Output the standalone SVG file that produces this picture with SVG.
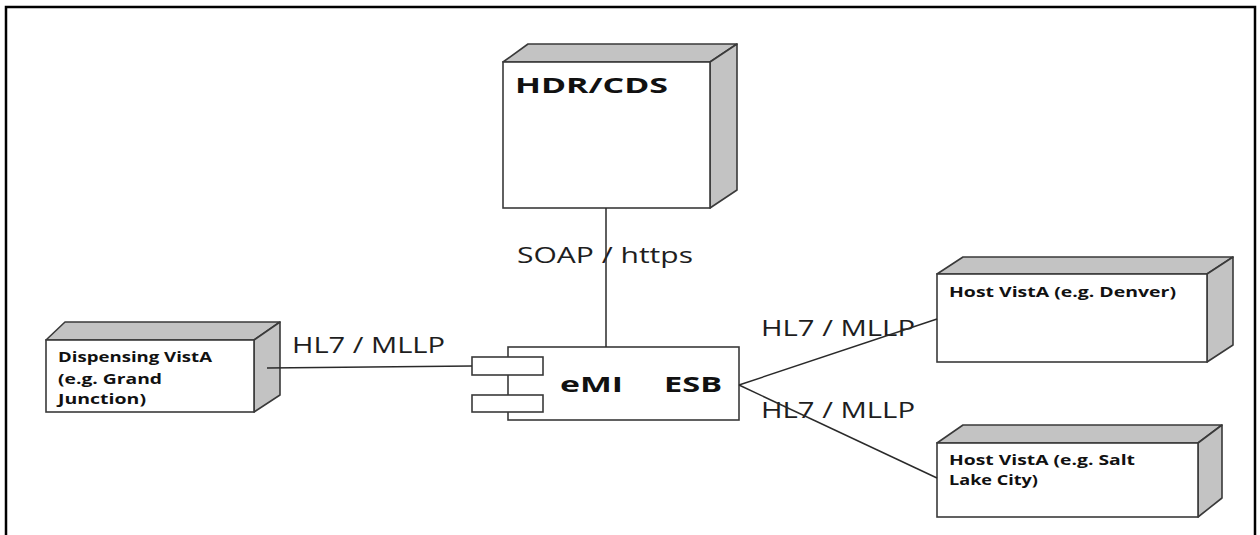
<svg xmlns="http://www.w3.org/2000/svg" width="1260" height="535" viewBox="0 0 1260 535">
<style>
.face{fill:#ffffff;stroke:#3a3a3a;stroke-width:1.6}
.shade{fill:#c3c3c3;stroke:#3a3a3a;stroke-width:1.6;stroke-linejoin:round}
.conn{stroke:#2a2a2a;stroke-width:1.5;fill:none}
.lbl{font-family:"Open Sans","Liberation Sans",sans-serif;font-size:21px;fill:#1e1e1e}
.nb{font-family:"Open Sans","Liberation Sans",sans-serif;font-weight:bold;font-size:14.5px;fill:#111}
.big{font-family:"Open Sans","Liberation Sans",sans-serif;font-weight:bold;font-size:22px;fill:#111}
</style>
<rect width="1260" height="535" fill="#ffffff"/>
<path d="M6,535 V7 H1255 V535" fill="none" stroke="#000" stroke-width="2.5"/>
<g id="hdr">
<polygon class="shade" points="503,62 528,44 737,44 710,62"/>
<polygon class="shade" points="710,62 737,44 737,190 710,208"/>
<rect class="face" x="503" y="62" width="207" height="146"/>
<text class="big" x="515" y="93" textLength="153" lengthAdjust="spacingAndGlyphs">HDR/CDS</text>
</g>
<g id="dispensing">
<polygon class="shade" points="46,340 65,322 280,322 254,340"/>
<polygon class="shade" points="254,340 280,322 280,395 254,412"/>
<rect class="face" x="46" y="340" width="208" height="72"/>
<text class="nb" x="58" y="362" textLength="154" lengthAdjust="spacingAndGlyphs">Dispensing VistA</text>
<text class="nb" x="58" y="384" textLength="104" lengthAdjust="spacingAndGlyphs">(e.g. Grand</text>
<text class="nb" x="58" y="404" textLength="88" lengthAdjust="spacingAndGlyphs">Junction)</text>
</g>
<g id="esb">
<rect class="face" x="508" y="347" width="231" height="73"/>
<rect class="face" x="472" y="357" width="71" height="18"/>
<rect class="face" x="472" y="395" width="71" height="17"/>
<text class="big" x="560" y="392" textLength="63" lengthAdjust="spacingAndGlyphs">eMI</text>
<text class="big" x="664" y="392" textLength="58" lengthAdjust="spacingAndGlyphs">ESB</text>
</g>
<g id="denver">
<polygon class="shade" points="937,274 963,257 1233,257 1207,274"/>
<polygon class="shade" points="1207,274 1233,257 1233,345 1207,362"/>
<rect class="face" x="937" y="274" width="270" height="88"/>
<text class="nb" x="949" y="297" textLength="227" lengthAdjust="spacingAndGlyphs">Host VistA (e.g. Denver)</text>
</g>
<g id="saltlake">
<polygon class="shade" points="937,443 963,425 1222,425 1198,443"/>
<polygon class="shade" points="1198,443 1222,425 1222,498 1198,517"/>
<rect class="face" x="937" y="443" width="261" height="74"/>
<text class="nb" x="949" y="465" textLength="186" lengthAdjust="spacingAndGlyphs">Host VistA (e.g. Salt</text>
<text class="nb" x="949" y="485" textLength="89" lengthAdjust="spacingAndGlyphs">Lake City)</text>
</g>
<g id="connectors">
<text class="lbl" x="517" y="263" textLength="176" lengthAdjust="spacingAndGlyphs">SOAP / https</text>
<text class="lbl" x="292" y="353" textLength="153" lengthAdjust="spacingAndGlyphs">HL7 / MLLP</text>
<text class="lbl" x="761" y="336" textLength="154" lengthAdjust="spacingAndGlyphs">HL7 / MLLP</text>
<text class="lbl" x="761" y="418" textLength="154" lengthAdjust="spacingAndGlyphs">HL7 / MLLP</text>
<line class="conn" x1="606" y1="208" x2="606" y2="347"/>
<line class="conn" x1="267" y1="368" x2="472" y2="366"/>
<line class="conn" x1="739" y1="385" x2="937" y2="319"/>
<line class="conn" x1="739" y1="385" x2="937" y2="478"/>
</g>
</svg>
